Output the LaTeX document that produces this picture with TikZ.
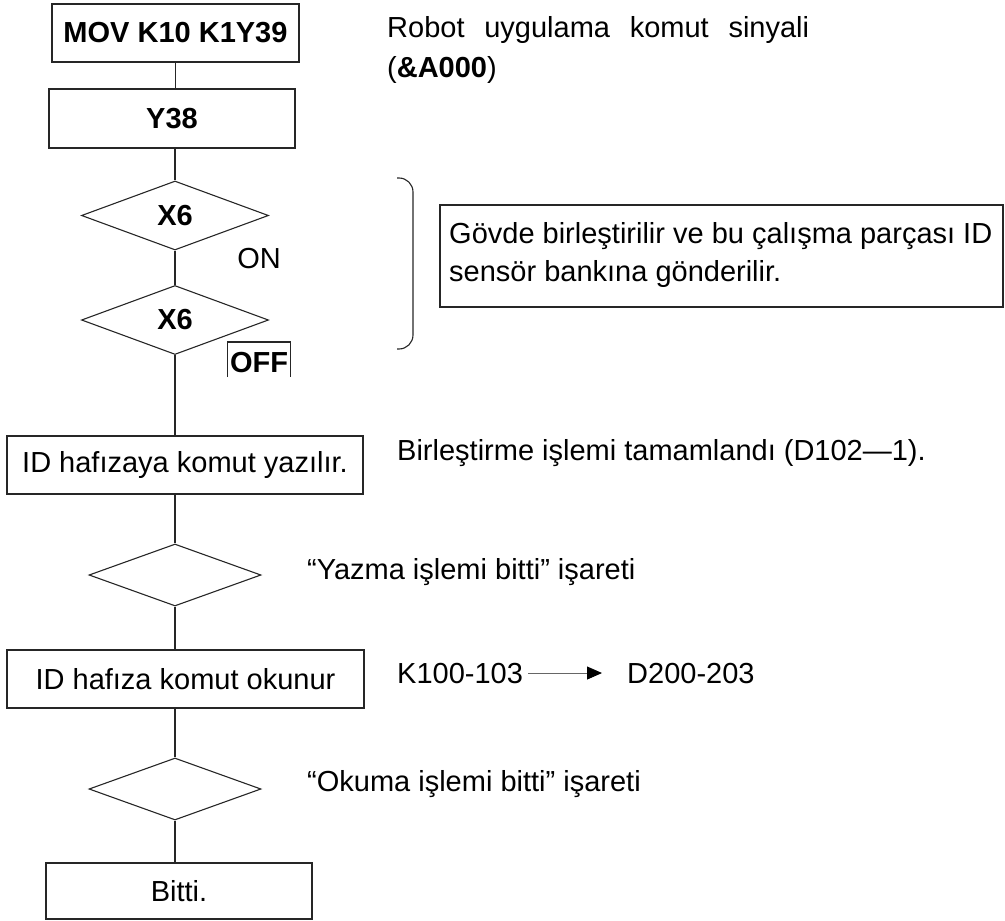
\documentclass[tikz,border=0pt]{standalone}
\usepackage{fontspec}
\setmainfont{Liberation Sans}
\usetikzlibrary{shapes.geometric,arrows.meta}
\newcommand\flowfont{\fontsize{29}{38}\selectfont}
\begin{document}
\begin{tikzpicture}[x=1pt,y=-1pt,
  line/.style={draw=black!85, line width=1.1pt},
  stepbox/.style={line, rectangle, inner sep=0pt, minimum height=58pt, font=\flowfont},
  decision/.style={line, diamond, shape aspect=2.7, inner sep=0pt,
    minimum width=187pt, minimum height=69pt, font=\flowfont\bfseries},
  label/.style={inner sep=0pt, anchor=base west, font=\flowfont},
  flowarrow/.style={draw=black!60, line width=0.9pt, -{Triangle[length=15pt,width=13pt,black]}}
]
\useasboundingbox (0,0) rectangle (1005,921);

% main column
\node[stepbox, minimum width=247pt, font=\flowfont\bfseries] (mov) at (175.5,33) {MOV K10 K1Y39};
\node[stepbox, minimum width=246pt, minimum height=59pt, font=\flowfont\bfseries] (y38) at (172,118.5) {Y38};
\node[decision] (d1) at (175,215.5) {X6};
\node[decision] (d2) at (175,320) {X6};
\node[stepbox, minimum width=356pt] (write) at (185,465) {ID hafızaya komut yazılır.};
\node[decision, minimum width=172pt, minimum height=62pt] (d3) at (175,575) {};
\node[stepbox, minimum width=357pt] (read) at (185.5,679) {ID hafıza komut okunur};
\node[decision, minimum width=172pt, minimum height=62pt] (d4) at (175,789) {};
\node[stepbox, minimum width=266pt, minimum height=56pt] (done) at (179,891) {Bitti.};

% connectors
\draw[line] (mov.south) -- (mov.south |- y38.north);
\draw[line] (d1.north |- y38.south) -- (d1.north);
\draw[line] (d1.south) -- (d2.north);
\draw[line] (d2.south) -- (d2.south |- write.north);
\draw[line] (d3.north |- write.south) -- (d3.north);
\draw[line] (d3.south) -- (d3.south |- read.north);
\draw[line] (d4.north |- read.south) -- (d4.north);
\draw[line] (d4.south) -- (d4.south |- done.north);

% branch labels
\node[inner sep=0pt, anchor=base, font=\flowfont] (on) at (259,268) {ON};
\node[inner sep=0pt, anchor=base, font=\flowfont\bfseries] (off) at (259,372) {OFF};
\draw[line] ([xshift=-2pt,yshift=-5pt]off.base west) |- ([xshift=2pt,yshift=30pt]off.base east)
  -- ([xshift=2pt,yshift=-5pt]off.base east);

% side notes
\node[label] (robot) at (387,37) {\makebox[422pt][s]{Robot uygulama komut sinyali}};
\node[label] (code) at (387,77) {(\textbf{\&A000})};

\draw[line, rounded corners=14pt] (397,178) -- (413,178) -- (413,349) -- (397,349);
\node[line, rectangle, inner sep=0pt, minimum width=563pt, minimum height=102pt] (note) at (721.5,256) {};
\node[label] (note1) at (449,243) {Gövde birleştirilir ve bu çalışma parçası ID};
\node[label] (note2) at (449,281) {sensör bankına gönderilir.};

\node[label] (merge) at (397,460) {Birleştirme işlemi tamamlandı (D102—1).};
\node[label] (wdone) at (307,579) {“Yazma işlemi bitti” işareti};
\node[label] (src) at (397,683) {K100-103};
\node[label] (dst) at (627,683) {D200-203};
\draw[flowarrow, shorten <=5pt, shorten >=25pt] (src.east) -- (dst.west);
\node[label] (rdone) at (307,791) {“Okuma işlemi bitti” işareti};
\end{tikzpicture}
\end{document}
